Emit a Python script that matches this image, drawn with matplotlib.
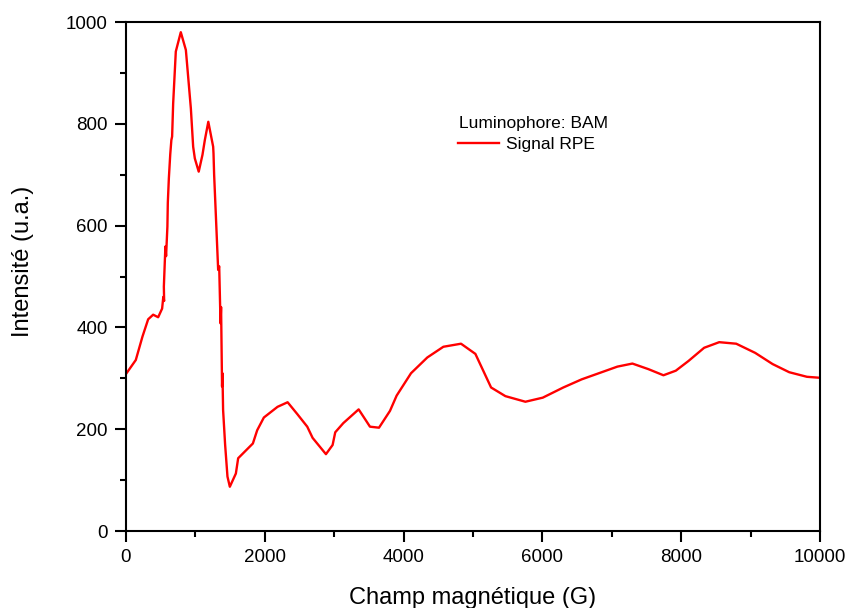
import matplotlib
matplotlib.use("Agg")
import matplotlib.pyplot as plt
from matplotlib.ticker import MultipleLocator

plt.rcParams['font.family'] = ['Liberation Sans', 'DejaVu Sans']

# EPR signal of the BAM phosphor: magnetic field (G) vs intensity (a.u.)
field = [0, 144, 240, 322, 394, 466, 523, 540, 552, 548, 570, 580, 599, 605, 620,
         640, 656, 667, 682, 720, 792, 865, 937, 970, 994, 1050, 1104, 1138, 1188,
         1258, 1263, 1272, 1300, 1330, 1345, 1364, 1372, 1386, 1392, 1401, 1430,
         1464, 1498, 1585, 1618, 1830, 1892, 1988, 2185, 2330, 2468, 2613, 2690,
         2882, 2978, 3016, 3132, 3353, 3454, 3516, 3646, 3804, 3900, 4107, 4342,
         4573, 4827, 5034, 5260, 5466, 5754, 6004, 6300, 6565, 6853, 7079, 7295,
         7526, 7742, 7920, 8102, 8328, 8545, 8790, 9063, 9314, 9553, 9808, 10000]
intensity = [308, 336, 382, 416, 425, 420, 437, 460, 452, 480, 559, 540, 598, 645,
             693, 740, 768, 775, 840, 942, 980, 945, 830, 755, 732, 706, 739, 768,
             804, 755, 742, 700, 610, 513, 520, 408, 440, 284, 310, 238, 170,
             107, 87, 113, 143, 172, 198, 223, 244, 253, 230, 205, 183,
             151, 169, 194, 212, 239, 218, 205, 203, 236, 266, 310, 341,
             362, 368, 348, 282, 265, 254, 262, 282, 298, 312, 323, 329,
             318, 306, 315, 334, 360, 371, 368, 350, 328, 312, 303, 301]

fig = plt.figure(figsize=(8.5, 6.08), dpi=100)
ax = fig.add_axes([0.148, 0.1266, 0.817, 0.8372])

ax.plot(field, intensity, color='#ff0000', lw=1.7, label='Signal RPE')

ax.set_xlim(0, 10000)
ax.set_ylim(0, 1000)
ax.xaxis.set_major_locator(MultipleLocator(2000))
ax.xaxis.set_minor_locator(MultipleLocator(1000))
ax.yaxis.set_major_locator(MultipleLocator(200))
ax.yaxis.set_minor_locator(MultipleLocator(100))

for s in ax.spines.values():
    s.set_linewidth(1.5)

ax.tick_params(which='major', direction='out', length=8, width=1.5,
               labelsize=13.5, pad=5)
ax.tick_params(which='minor', direction='out', length=4.5, width=1.5)

ax.set_xlabel('Champ magnétique (G)', fontsize=17, labelpad=15)
ax.set_ylabel('Intensité (u.a.)', fontsize=17)
ax.yaxis.set_label_coords(-0.132, 0.53)

# Sample name above the legend entry
ax.text(0.480, 0.800, 'Luminophore: BAM', transform=ax.transAxes,
        ha='left', va='center', fontsize=12.5)
ax.legend(loc='center left', bbox_to_anchor=(0.478, 0.760), frameon=False,
          fontsize=12.5, handlelength=2.4, handletextpad=0.4,
          borderaxespad=0, borderpad=0)

fig.savefig('out.png', dpi=100)
